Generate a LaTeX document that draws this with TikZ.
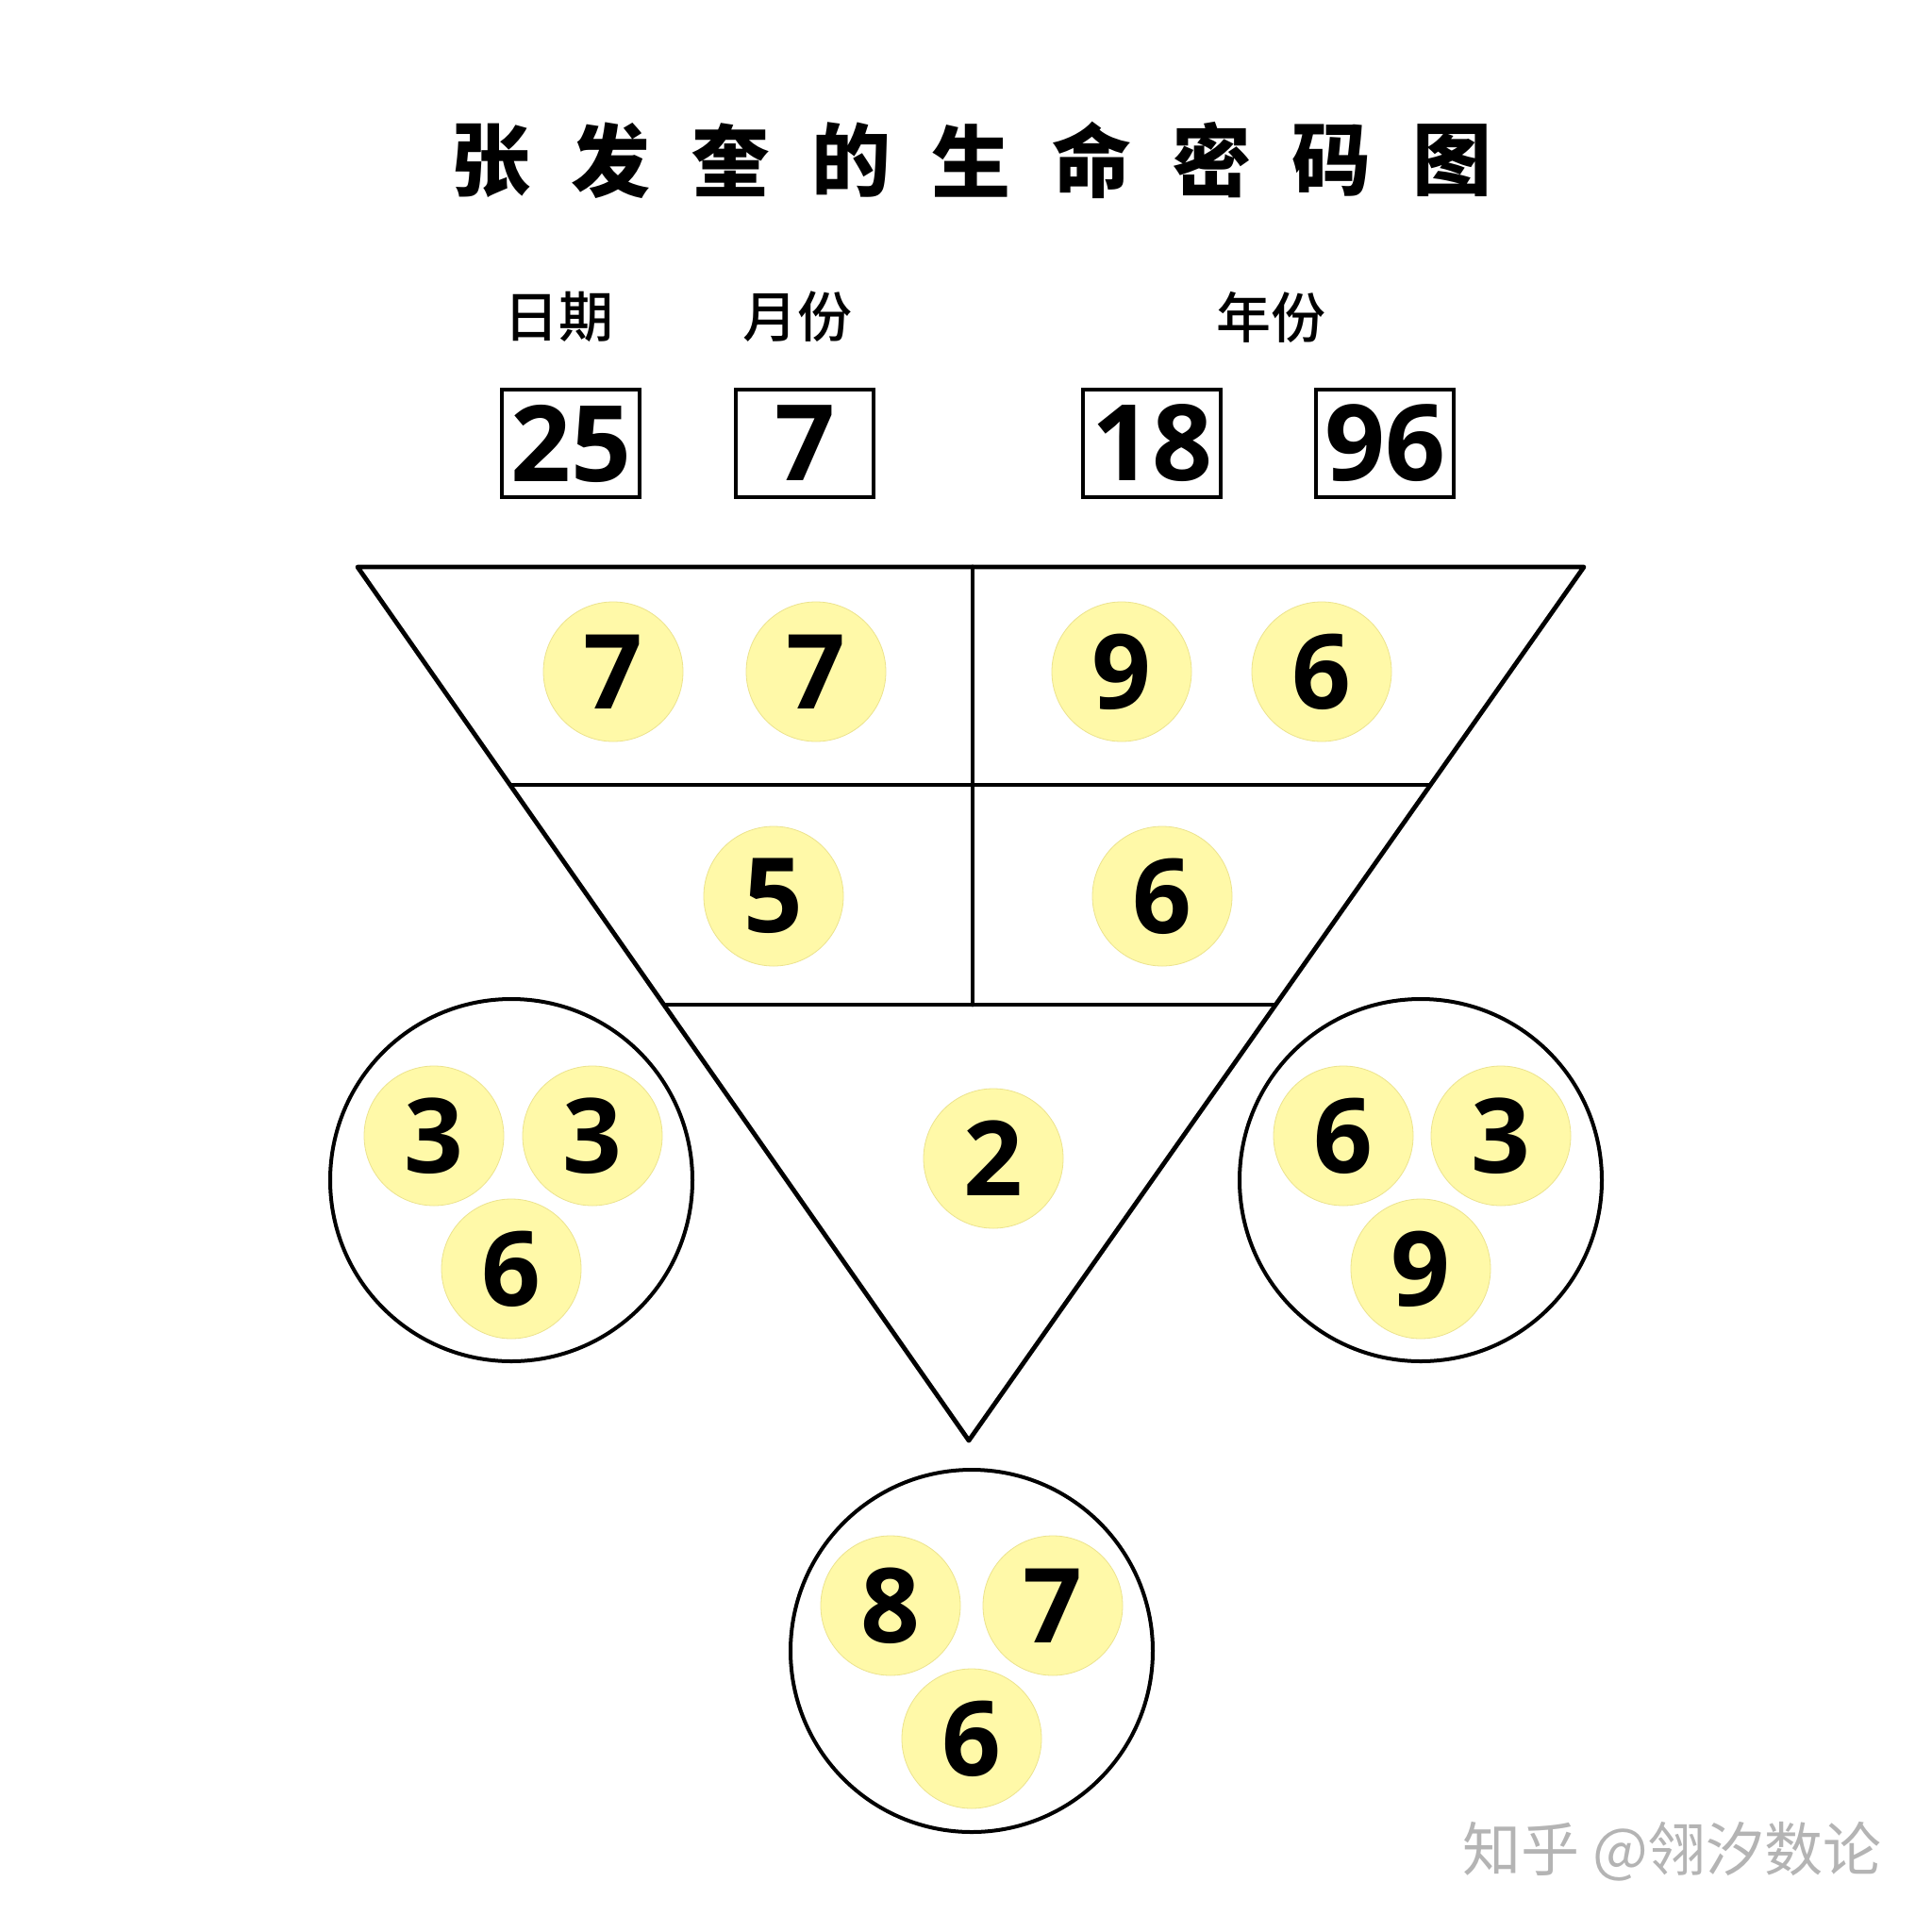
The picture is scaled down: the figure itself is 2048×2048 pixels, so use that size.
\documentclass[tikz,border=0pt]{standalone}
\usepackage{fontspec}
\newfontfamily\cjk{Noto Sans CJK SC}
\IfFontExistsTF{Noto Sans CJK SC Medium}
  {\newfontfamily\cjkt{Noto Sans CJK SC Medium}}
  {\newfontfamily\cjkt{Noto Sans CJK SC}[FakeBold=1.5]}
\IfFontExistsTF{Open Sans Bold}
  {\newfontfamily\digits{Open Sans Bold}}
  {\newfontfamily\digits{Noto Sans}[FakeBold=2.5]}
\definecolor{yfill}{HTML}{FFF9A8}
\definecolor{yedge}{HTML}{ECE38E}
\definecolor{wmgray}{HTML}{B4B4B4}
\begin{document}
\begin{tikzpicture}[x=1pt,y=-1pt,
  ycirc/.style={circle,fill=yfill,draw=yedge,line width=0.8pt,minimum size=148pt,inner sep=0pt,
    font=\digits\fontsize{110}{110}\selectfont},
  bigcirc/.style={circle,draw=black,line width=4pt,minimum size=384pt,inner sep=0pt},
  numbox/.style={draw=black,line width=3.5pt,minimum width=146pt,minimum height=114pt,inner sep=0pt,
    font=\digits\fontsize{112}{112}\selectfont},
  titlech/.style={font=\cjk\bfseries\fontsize{84}{84}\selectfont,inner sep=0pt},
  lab/.style={font=\cjkt\fontsize{58}{58}\selectfont,inner sep=0pt},
  tline/.style={line width=4.8pt,line join=round,line cap=round}]
\useasboundingbox (0,0) rectangle (2048,2048);
\fill[white] (0,0) rectangle (2048,2048);
% title
\foreach \c [count=\i from 0] in {张,发,奎,的,生,命,密,码,图}{
  \node[titlech] (t\i) at ({520+127.4*\i},170) {\c};
}
% labels
\node[lab] (l1) at (592,336) {日期};
\node[lab] (l2) at (845,336) {月份};
\node[lab] (l3) at (1347,336) {年份};
% boxes
\node[numbox] (b1) at (605,470) {25};
\node[numbox] (b2) at (853,470) {7};
\node[numbox] (b3) at (1221,470) {18};
\node[numbox] (b4) at (1468,470) {96};
% triangle
\coordinate (A) at (379,601);
\coordinate (B) at (1679,601);
\coordinate (C) at (1027,1527);
\coordinate (L1) at (541,832);
\coordinate (R1) at (1516,832);
\coordinate (L2) at (704,1065);
\coordinate (R2) at (1352,1065);
\coordinate (V1) at (1031,601);
\coordinate (V2) at (1031,1065);
\draw[tline] (A) -- (B) -- (C) -- cycle;
\draw[tline] (L1) -- (R1);
\draw[tline] (L2) -- (R2);
\draw[tline] (V1) -- (V2);
% yellow circles in triangle
\node[ycirc] (a1) at (650,712) {7};
\node[ycirc] (a2) at (865,712) {7};
\node[ycirc] (a3) at (1189,712) {9};
\node[ycirc] (a4) at (1401,712) {6};
\node[ycirc] (m1) at (820,950) {5};
\node[ycirc] (m2) at (1232,950) {6};
\node[ycirc] (m3) at (1053,1228) {2};
% side circles
\node[bigcirc] (LC) at (542,1251) {};
\node[ycirc] (p1) at (460,1204) {3};
\node[ycirc] (p2) at (628,1204) {3};
\node[ycirc] (p3) at (542,1345) {6};
\node[bigcirc] (RC) at (1506,1251) {};
\node[ycirc] (q1) at (1424,1204) {6};
\node[ycirc] (q2) at (1591,1204) {3};
\node[ycirc] (q3) at (1506,1345) {9};
\node[bigcirc] (BC) at (1030,1750) {};
\node[ycirc] (r1) at (944,1702) {8};
\node[ycirc] (r2) at (1116,1702) {7};
\node[ycirc] (r3) at (1030,1843) {6};
% watermark
\node[font=\cjk\fontsize{62}{62}\selectfont,text=wmgray,inner sep=0pt,anchor=east] (wm) at (1995,1963) {知乎 @翎汐数论};
\end{tikzpicture}
\end{document}
